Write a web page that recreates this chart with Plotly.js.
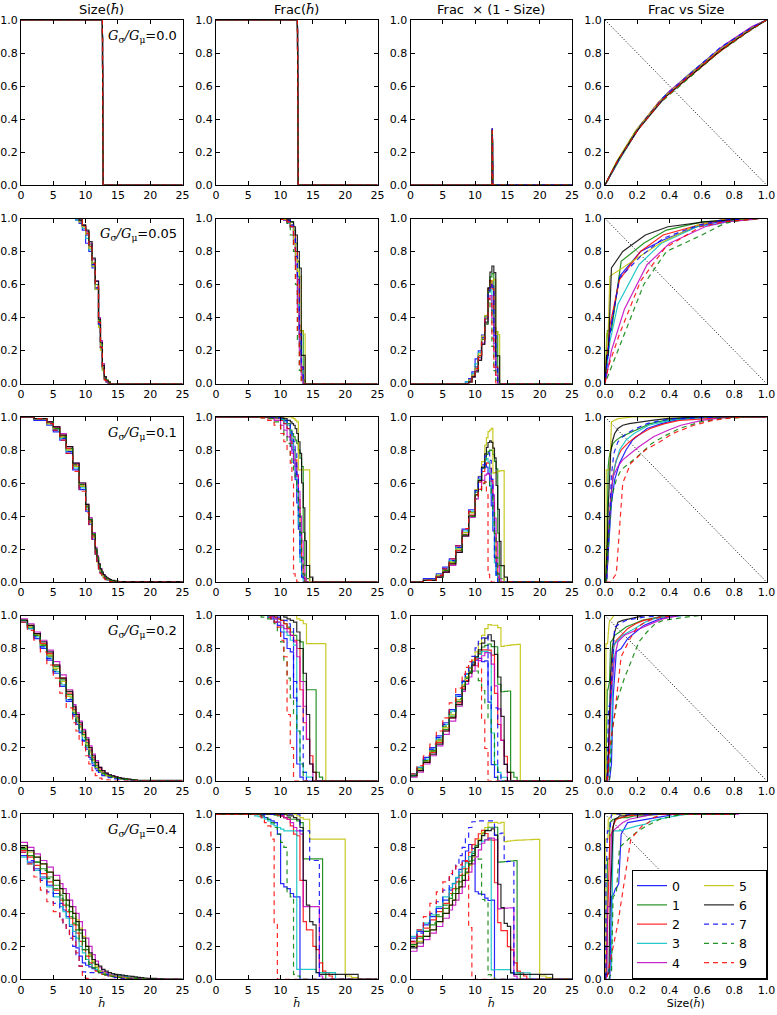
<!DOCTYPE html>
<html><head><meta charset="utf-8">
<script src="https://cdn.plot.ly/plotly-3.0.1.min.js"></script>
<style>body{margin:0;background:#fff}#plot{width:777px;height:1015px}</style>
</head><body><div id="plot"></div>
<script>
// ---------------- data ----------------
const SERIES_NAMES = ['0','1','2','3','4','5','6','7','8','9'];
const SERIES_COLORS = ['#0000ff','#008000','#ff0000','#00bfbf','#bf00bf','#bfbf00','#000000','#0000ff','#008000','#ff0000'];
const SERIES_DASH = ['solid','solid','solid','solid','solid','solid','solid','5px,4px','5px,4px','5px,4px'];
const RATIO_LABELS = ['0.0','0.05','0.1','0.2','0.4'];
const COL_TITLES = ['Size(<i>h̄</i>)','Frac(<i>h̄</i>)','Frac  × (1 - Size)','Frac vs Size'];
const DIAG_X = [0,1], DIAG_Y = [1,0];

// Row 1 : G_sigma/G_mu = 0.0 (shared h grid)
const H1 = [0,12.6,12.62,12.64,12.66,12.68,12.7,12.72,25];
const SIZE1 = [
 [1,0.9,0.72,0.52,0.35,0.2,0.08,0,0],
 [1,0.92,0.75,0.55,0.38,0.22,0.1,0,0],
 [1,0.88,0.7,0.5,0.33,0.18,0.07,0,0],
 [1,0.9,0.73,0.53,0.36,0.21,0.09,0,0],
 [1,0.91,0.74,0.56,0.4,0.24,0.1,0,0],
 [1,0.89,0.71,0.51,0.34,0.19,0.07,0,0],
 [1,0.9,0.72,0.54,0.37,0.2,0.08,0,0],
 [1,0.9,0.71,0.52,0.36,0.21,0.09,0,0],
 [1,0.89,0.7,0.5,0.32,0.18,0.07,0,0],
 [1,0.9,0.72,0.52,0.34,0.2,0.08,0,0]];
const FRAC1 = [
 [1,0.95,0.83,0.67,0.52,0.34,0.15,0,0],
 [1,0.96,0.84,0.69,0.55,0.36,0.17,0,0],
 [1,0.93,0.8,0.64,0.5,0.31,0.13,0,0],
 [1,0.95,0.84,0.68,0.53,0.35,0.16,0,0],
 [1,0.96,0.85,0.7,0.57,0.39,0.18,0,0],
 [1,0.94,0.82,0.66,0.51,0.33,0.14,0,0],
 [1,0.94,0.82,0.67,0.53,0.33,0.15,0,0],
 [1,0.95,0.83,0.67,0.53,0.35,0.16,0,0],
 [1,0.93,0.8,0.63,0.48,0.31,0.13,0,0],
 [1,0.94,0.82,0.66,0.5,0.33,0.15,0,0]];

// Row 2 : 0.05
const H2 = [0,8,8.5,9,9.5,10,10.5,11,11.5,12,12.3,12.6,12.9,13.2,13.5,13.8,25];
const SIZE2 = [
 [1,1,0.99,0.97,0.93,0.85,0.8,0.7,0.57,0.36,0.22,0.09,0.03,0.01,0,0,0],
 [1,1,1,0.99,0.96,0.92,0.84,0.73,0.6,0.38,0.24,0.1,0.04,0.015,0.005,0,0],
 [1,1,1,0.98,0.95,0.91,0.83,0.72,0.58,0.36,0.22,0.09,0.03,0.01,0,0,0],
 [1,1,0.99,0.98,0.94,0.88,0.81,0.71,0.57,0.35,0.21,0.08,0.03,0.01,0,0,0],
 [1,1,1,0.99,0.96,0.92,0.85,0.75,0.62,0.4,0.26,0.12,0.04,0.01,0,0,0],
 [1,1,1,0.98,0.95,0.9,0.82,0.71,0.57,0.34,0.2,0.08,0.03,0.02,0.01,0,0],
 [1,1,1,0.99,0.96,0.93,0.86,0.76,0.62,0.39,0.25,0.11,0.04,0.02,0.01,0,0],
 [1,1,1,0.98,0.95,0.9,0.83,0.72,0.58,0.36,0.22,0.09,0.03,0.01,0,0,0],
 [1,1,1,0.99,0.96,0.92,0.84,0.74,0.6,0.38,0.24,0.1,0.03,0.01,0,0,0],
 [1,1,1,0.99,0.96,0.91,0.84,0.73,0.59,0.37,0.22,0.09,0.02,0,0,0,0]];
const FRAC2 = [
 [1,1,1,1,1,0.995,0.99,0.98,0.95,0.87,0.8,0.65,0.3,0.1,0,0,0],
 [1,1,1,1,1,1,0.995,0.99,0.98,0.93,0.85,0.74,0.32,0.32,0.02,0,0],
 [1,1,1,1,1,1,0.995,0.99,0.96,0.9,0.8,0.63,0.35,0.1,0,0,0],
 [1,1,1,1,1,0.995,0.99,0.97,0.95,0.85,0.72,0.48,0.25,0.08,0,0,0],
 [1,1,1,1,1,0.995,0.99,0.98,0.95,0.85,0.72,0.45,0.2,0.05,0,0,0],
 [1,1,1,1,1,1,0.995,0.99,0.96,0.85,0.76,0.68,0.65,0.32,0.3,0,0],
 [1,1,1,1,1,1,1,0.99,0.98,0.95,0.9,0.8,0.7,0.17,0.17,0,0],
 [1,1,1,1,1,1,0.995,0.99,0.96,0.88,0.77,0.64,0.3,0.1,0,0,0],
 [1,1,1,1,1,0.995,0.99,0.97,0.9,0.8,0.6,0.25,0.08,0.02,0,0,0],
 [1,1,1,1,1,0.995,0.99,0.98,0.95,0.82,0.62,0.3,0.1,0,0,0,0]];

// Row 3 : 0.1
const H3 = [0,2,4,5,6,7,8,9,10,10.5,11,11.5,11.75,12,12.25,12.5,12.75,13,13.25,13.5,13.75,14,14.5,15,25];
const SIZE3 = [
 [1,0.98,0.95,0.91,0.86,0.78,0.68,0.56,0.43,0.35,0.26,0.17,0.13,0.09,0.06,0.04,0.03,0.02,0.015,0.01,0.008,0.005,0.002,0,0],
 [1,0.99,0.96,0.93,0.88,0.8,0.7,0.58,0.45,0.37,0.28,0.19,0.14,0.1,0.07,0.05,0.035,0.025,0.02,0.015,0.01,0.008,0.004,0.001,0],
 [1,0.99,0.97,0.94,0.89,0.81,0.71,0.59,0.46,0.37,0.28,0.19,0.14,0.1,0.07,0.05,0.035,0.025,0.018,0.012,0.008,0.005,0.002,0,0],
 [1,0.99,0.96,0.92,0.87,0.79,0.69,0.57,0.44,0.36,0.27,0.18,0.13,0.09,0.06,0.04,0.03,0.02,0.015,0.01,0.007,0.004,0.002,0,0],
 [1,0.99,0.97,0.94,0.9,0.82,0.72,0.6,0.47,0.39,0.3,0.21,0.16,0.11,0.08,0.05,0.04,0.03,0.02,0.015,0.01,0.006,0.003,0.001,0],
 [1,0.99,0.96,0.93,0.88,0.8,0.7,0.58,0.44,0.36,0.27,0.17,0.12,0.08,0.06,0.04,0.03,0.025,0.02,0.015,0.01,0.008,0.004,0,0],
 [1,0.99,0.97,0.94,0.89,0.82,0.72,0.6,0.47,0.38,0.29,0.2,0.15,0.11,0.08,0.06,0.045,0.035,0.025,0.02,0.015,0.01,0.005,0.002,0],
 [1,0.99,0.96,0.92,0.87,0.79,0.69,0.57,0.44,0.35,0.26,0.17,0.12,0.08,0.055,0.04,0.03,0.02,0.015,0.01,0.006,0.003,0.001,0,0],
 [1,0.99,0.97,0.93,0.88,0.81,0.71,0.59,0.46,0.38,0.29,0.2,0.15,0.1,0.07,0.05,0.035,0.025,0.018,0.012,0.008,0.005,0.002,0,0],
 [1,0.99,0.96,0.92,0.86,0.78,0.67,0.55,0.42,0.34,0.25,0.16,0.11,0.07,0.05,0.035,0.025,0.015,0.01,0.006,0.003,0.001,0,0,0]];
const FRAC3 = [
 [1,1,1,1,1,1,1,0.995,0.98,0.96,0.93,0.86,0.8,0.72,0.62,0.48,0.32,0.15,0.05,0.02,0,0,0,0,0],
 [1,1,1,1,1,1,1,1,0.99,0.98,0.96,0.92,0.9,0.88,0.86,0.84,0.8,0.75,0.7,0.3,0.1,0.02,0,0,0],
 [1,1,1,1,1,1,0.995,0.99,0.98,0.96,0.93,0.88,0.84,0.8,0.74,0.65,0.5,0.3,0.1,0.03,0,0,0,0,0],
 [1,1,1,1,1,1,1,0.995,0.985,0.97,0.95,0.9,0.86,0.8,0.7,0.55,0.35,0.12,0.04,0,0,0,0,0,0],
 [1,1,1,1,1,1,0.995,0.98,0.95,0.92,0.88,0.82,0.78,0.74,0.7,0.64,0.55,0.4,0.25,0.1,0.02,0,0,0,0],
 [1,1,1,1,1,1,1,1,1,1,1,1,0.995,0.99,0.98,0.97,0.68,0.68,0.68,0.68,0.68,0.68,0,0,0],
 [1,1,1,1,1,1,1,1,0.995,0.99,0.98,0.97,0.96,0.95,0.93,0.9,0.85,0.78,0.6,0.45,0.25,0.1,0.03,0,0],
 [1,1,1,1,1,1,1,0.995,0.99,0.98,0.96,0.92,0.89,0.85,0.78,0.65,0.4,0.15,0.03,0,0,0,0,0,0],
 [1,1,1,1,1,0.995,0.99,0.97,0.93,0.89,0.84,0.76,0.72,0.68,0.62,0.55,0.45,0.3,0.15,0.05,0,0,0,0,0],
 [1,1,1,1,1,0.995,0.98,0.95,0.9,0.85,0.8,0.72,0.6,0.05,0.02,0,0,0,0,0,0,0,0,0,0]];

// Row 4 : 0.2
const H4 = [0,1,2,3,4,5,6,7,8,8.5,9,9.5,10,10.5,11,11.5,12,12.5,13,13.5,14,14.5,15,15.5,16,16.5,17,17.5,18,25];
const SIZE4 = [
 [0.96,0.92,0.86,0.8,0.73,0.65,0.57,0.48,0.39,0.34,0.29,0.24,0.19,0.14,0.1,0.07,0.05,0.04,0.03,0.025,0.02,0.015,0.01,0.008,0.005,0.003,0.001,0,0,0],
 [0.97,0.93,0.88,0.82,0.76,0.69,0.61,0.52,0.43,0.38,0.33,0.28,0.23,0.18,0.13,0.09,0.06,0.045,0.035,0.028,0.022,0.018,0.014,0.01,0.008,0.005,0.003,0.002,0,0],
 [0.97,0.94,0.89,0.83,0.77,0.7,0.62,0.53,0.44,0.39,0.34,0.29,0.24,0.19,0.14,0.1,0.07,0.05,0.04,0.03,0.025,0.02,0.015,0.01,0.008,0.005,0.003,0.001,0,0],
 [0.96,0.92,0.87,0.81,0.74,0.66,0.58,0.49,0.4,0.35,0.3,0.25,0.2,0.15,0.11,0.08,0.055,0.04,0.032,0.026,0.02,0.016,0.012,0.01,0.008,0.006,0.004,0.002,0,0],
 [0.98,0.95,0.9,0.85,0.79,0.72,0.64,0.55,0.46,0.41,0.36,0.31,0.26,0.21,0.16,0.12,0.08,0.06,0.045,0.035,0.028,0.022,0.017,0.013,0.01,0.007,0.004,0.002,0,0],
 [0.97,0.93,0.88,0.82,0.76,0.68,0.6,0.51,0.42,0.37,0.32,0.27,0.22,0.17,0.12,0.08,0.055,0.04,0.03,0.025,0.02,0.016,0.013,0.01,0.008,0.006,0.004,0.002,0,0],
 [0.97,0.94,0.89,0.84,0.78,0.7,0.62,0.54,0.45,0.4,0.35,0.3,0.25,0.2,0.15,0.11,0.08,0.06,0.045,0.035,0.028,0.022,0.017,0.013,0.01,0.008,0.005,0.003,0.001,0],
 [0.97,0.93,0.87,0.81,0.74,0.66,0.58,0.49,0.4,0.35,0.3,0.24,0.18,0.13,0.09,0.06,0.04,0.03,0.022,0.017,0.013,0.01,0.008,0.006,0.004,0.002,0.001,0,0,0],
 [0.97,0.93,0.88,0.82,0.75,0.67,0.59,0.5,0.41,0.36,0.31,0.26,0.21,0.16,0.12,0.08,0.06,0.045,0.035,0.028,0.022,0.018,0.014,0.01,0.007,0.005,0.003,0.001,0,0],
 [0.96,0.91,0.85,0.78,0.7,0.62,0.53,0.44,0.35,0.3,0.25,0.2,0.15,0.1,0.06,0.03,0.015,0.008,0.004,0.002,0.001,0,0,0,0,0,0,0,0,0]];
const FRAC4 = [
 [1,1,1,1,1,1,1,1,0.99,0.98,0.96,0.94,0.9,0.86,0.8,0.78,0.5,0.1,0.02,0,0,0,0,0,0,0,0,0,0,0],
 [1,1,1,1,1,1,1,1,1,1,0.99,0.98,0.97,0.95,0.93,0.9,0.88,0.85,0.84,0.6,0.55,0.55,0.55,0.05,0.02,0,0,0,0,0],
 [1,1,1,1,1,1,1,1,1,0.995,0.99,0.98,0.97,0.95,0.92,0.88,0.85,0.8,0.55,0.35,0.25,0.15,0.05,0,0,0,0,0,0,0],
 [1,1,1,1,1,1,1,1,0.995,0.99,0.98,0.96,0.93,0.9,0.88,0.85,0.82,0.3,0.1,0.05,0.02,0.02,0,0,0,0,0,0,0,0],
 [1,1,1,1,1,1,1,1,1,0.99,0.98,0.96,0.94,0.92,0.9,0.88,0.84,0.75,0.6,0.45,0.25,0.1,0,0,0,0,0,0,0,0],
 [1,1,1,1,1,1,1,1,1,1,1,1,1,1,1,1,1,0.98,0.97,0.95,0.83,0.83,0.83,0.83,0.83,0.83,0,0,0,0],
 [1,1,1,1,1,1,1,1,1,1,1,1,1,0.99,0.98,0.97,0.96,0.9,0.8,0.65,0.4,0.1,0.05,0,0,0,0,0,0,0],
 [1,1,1,1,1,1,1,1,1,1,0.995,0.99,0.98,0.97,0.95,0.93,0.6,0.45,0.45,0.05,0,0,0,0,0,0,0,0,0,0],
 [1,1,1,1,1,1,1,0.99,0.98,0.97,0.95,0.9,0.84,0.72,0.62,0.5,0.4,0.3,0.1,0,0,0,0,0,0,0,0,0,0,0],
 [1,1,1,1,1,1,1,1,0.99,0.98,0.96,0.93,0.85,0.75,0.4,0.2,0,0,0,0,0,0,0,0,0,0,0,0,0,0]];

// Row 5 : 0.4
const H5 = [0,1,2,3,4,5,6,6.5,7,7.5,8,8.5,9,9.5,10,10.5,11,11.5,12,12.5,13,13.5,14,14.5,15,15.5,16,16.5,17,17.5,18,18.5,19,19.5,20,21,22,25];
const SIZE5 = [
 [.75,.71,.67,.62,.57,.52,.46,.42,.38,.32,.26,.19,.14,.1,.085,.075,.065,.055,.045,.04,.03,.025,.02,.015,.012,.01,.008,.006,.005,.004,.003,.002,.001,.001,0,0,0,0],
 [.79,.75,.71,.67,.62,.57,.51,.48,.45,.41,.37,.33,.28,.23,.18,.14,.1,.07,.05,.04,.03,.028,.025,.022,.02,.018,.015,.01,.008,.006,.005,.004,.003,.002,.001,0,0,0],
 [.78,.74,.69,.64,.59,.54,.48,.45,.41,.37,.33,.28,.23,.18,.14,.1,.07,.05,.04,.03,.025,.02,.018,.015,.012,.01,.008,.006,.005,.004,.003,.002,.001,0,0,0,0,0],
 [.74,.7,.66,.61,.56,.5,.44,.41,.37,.33,.29,.25,.2,.16,.12,.09,.07,.06,.05,.04,.035,.03,.028,.025,.022,.02,.018,.015,.012,.01,.008,.005,.003,.002,.001,0,0,0],
 [.83,.8,.76,.72,.68,.63,.58,.55,.52,.48,.44,.4,.35,.3,.25,.2,.15,.11,.07,.05,.04,.03,.025,.02,.018,.015,.012,.01,.008,.006,.004,.003,.002,.001,0,0,0,0],
 [.8,.77,.74,.7,.65,.6,.55,.52,.48,.44,.4,.36,.31,.26,.2,.15,.11,.08,.05,.04,.03,.025,.02,.018,.015,.012,.01,.008,.007,.006,.005,.004,.003,.002,.001,0,0,0],
 [.81,.78,.74,.7,.65,.6,.55,.52,.48,.44,.4,.35,.3,.25,.2,.16,.12,.09,.08,.06,.05,.04,.035,.03,.028,.025,.022,.02,.018,.015,.012,.01,.008,.006,.005,.002,0,0],
 [.77,.72,.66,.6,.53,.46,.38,.34,.3,.25,.2,.14,.08,.045,.04,.04,.04,.04,.04,.04,.03,.02,.015,.01,.008,.006,.005,.004,.003,.002,.002,.001,.001,0,0,0,0,0],
 [.79,.75,.71,.66,.61,.55,.49,.46,.42,.38,.34,.3,.24,.18,.12,.09,.07,.05,.04,.03,.025,.02,.018,.015,.012,.01,.008,.006,.005,.004,.003,.002,.001,0,0,0,0,0],
 [.77,.7,.62,.54,.47,.41,.36,.33,.3,.27,.23,.16,.08,.01,.005,0,0,0,0,0,0,0,0,0,0,0,0,0,0,0,0,0,0,0,0,0,0,0]];
const FRAC5 = [
 [1,1,1,1,1,1,1,1,0.99,0.98,0.97,0.96,0.95,0.88,0.58,0.56,0.55,0.52,0.5,0.5,0,0,0,0,0,0,0,0,0,0,0,0,0,0,0,0,0,0],
 [1,1,1,1,1,1,1,1,1,1,1,1,0.995,0.99,0.99,0.98,0.98,0.97,0.97,0.96,0.95,0.73,0.73,0.73,0.73,0.73,0.73,0.04,0,0,0,0,0,0,0,0,0,0],
 [1,1,1,1,1,1,1,1,1,1,1,1,1,0.995,0.99,0.98,0.97,0.93,0.88,0.87,0.6,0.35,0.3,0.3,0.2,0.18,0.1,0.05,0.04,0.02,0,0,0,0,0,0,0,0],
 [1,1,1,1,1,1,0.99,0.985,0.98,0.97,0.96,0.94,0.93,0.92,0.91,0.9,0.9,0.9,0.9,0.06,0.06,0.06,0.06,0.06,0.06,0.04,0.04,0.04,0.04,0.04,0.04,0,0,0,0,0,0,0],
 [1,1,1,1,1,1,1,1,1,1,1,1,1,1,0.99,0.98,0.97,0.95,0.92,0.9,0.88,0.44,0.44,0.44,0.44,0.44,0.02,0,0,0,0,0,0,0,0,0,0,0],
 [1,1,1,1,1,1,1,1,1,1,1,1,1,1,1,1,1,1,1,0.99,0.98,0.97,0.97,0.85,0.85,0.85,0.85,0.85,0.85,0.85,0.85,0.85,0.85,0.85,0.02,0.01,0,0],
 [1,1,1,1,1,1,1,1,1,1,1,1,1,1,1,1,0.99,0.99,0.98,0.97,0.92,0.6,0.45,0.35,0.33,0.04,0.03,0.03,0.03,0.03,0.03,0.03,0.03,0.03,0.03,0.03,0,0],
 [1,1,1,1,1,1,1,1,1,1,1,1,1,1,1,1,1,1,1,1,0.9,0.9,0.9,0.72,0.72,0.72,0,0,0,0,0,0,0,0,0,0,0,0],
 [1,1,1,1,1,1,1,0.995,0.99,0.98,0.97,0.95,0.92,0.88,0.83,0.8,0.52,0.5,0.03,0.02,0,0,0,0,0,0,0,0,0,0,0,0,0,0,0,0,0,0],
 [1,1,1,1,1,1,1,0.99,0.98,0.95,0.93,0.85,0.34,0,0,0,0,0,0,0,0,0,0,0,0,0,0,0,0,0,0,0,0,0,0,0,0,0]];

const H_ROWS = [H1,H2,H3,H4,H5];
const SIZE_ROWS = [SIZE1,SIZE2,SIZE3,SIZE4,SIZE5];
const FRAC_ROWS = [FRAC1,FRAC2,FRAC3,FRAC4,FRAC5];

// ---------------- layout geometry (pixels) ----------------
const W = 777, HT = 1015;
const COL_L = [21, 216, 410.5, 605], PW = 161.5;
const ROW_T = [20, 218.5, 417, 615.5, 814.3], PH = 165;
const FONT = 'DejaVu Sans';

const traces = [];
const layout = {
  width: W, height: HT, margin: {l:0, r:0, t:0, b:0, autoexpand: false},
  paper_bgcolor: '#fff', plot_bgcolor: '#fff', showlegend: true,
  font: {family: FONT, size: 11, color: '#000'},
  annotations: [],
  legend: {x: 632/W, y: 1 - 870/HT, xanchor: 'left', yanchor: 'top',
    orientation: 'h', traceorder: 'grouped', tracegroupgap: 10,
    entrywidth: 22, entrywidthmode: 'pixels',
    bgcolor: '#fff', bordercolor: '#000', borderwidth: 1,
    font: {family: FONT, size: 12.5, color: '#000'}, itemwidth: 30}
};

function axBase() {
  return {showline: true, linecolor: '#000', linewidth: 1, mirror: 'allticks',
    ticks: 'inside', ticklen: 4, tickwidth: 1, tickcolor: '#000',
    showgrid: false, zeroline: false, fixedrange: true, automargin: false,
    tickfont: {family: FONT, size: 11, color: '#000'}};
}

for (let r = 0; r < 5; r++) {
  for (let c = 0; c < 4; c++) {
    const k = r*4 + c + 1;
    const xn = k === 1 ? 'x' : 'x' + k, yn = k === 1 ? 'y' : 'y' + k;
    const xa = axBase(), ya = axBase();
    const L = COL_L[c], T = ROW_T[r];
    xa.domain = [L/W, (L+PW)/W];
    ya.domain = [1 - (T+PH)/HT, 1 - T/HT];
    xa.anchor = yn; ya.anchor = xn;
    if (c < 3) { xa.range = [0,25]; xa.tickvals = [0,5,10,15,20,25]; }
    else { xa.range = [0,1]; xa.tickvals = [0,0.2,0.4,0.6,0.8,1.0]; xa.tickformat = '.1f'; }
    ya.range = [0,1]; ya.tickvals = [0,0.2,0.4,0.6,0.8,1.0]; ya.tickformat = '.1f';
    if (r === 4) {
      xa.title = {text: c < 3 ? '<i>h̄</i>' : 'Size(<i>h̄</i>)', font: {family: FONT, size: 11, color:'#000'}, standoff: 3};
    }
    layout[k === 1 ? 'xaxis' : 'xaxis' + k] = xa;
    layout[k === 1 ? 'yaxis' : 'yaxis' + k] = ya;

    if (c === 3) {
      traces.push({x: DIAG_X, y: DIAG_Y, xaxis: xn, yaxis: yn, mode: 'lines',
        line: {color: '#000', width: 1, dash: '1px,2px'}, showlegend: false, hoverinfo: 'skip'});
    }
    const H = H_ROWS[r];
    for (let s = 0; s < 10; s++) {
      const S = SIZE_ROWS[r][s], F = FRAC_ROWS[r][s];
      let x, y, shape = 'hv';
      if (c === 0) { x = H; y = S; }
      else if (c === 1) { x = H; y = F; }
      else if (c === 2) { x = H; y = F.map((f, i) => f * (1 - S[i])); }
      else { x = S; y = F; shape = 'linear'; }
      traces.push({x, y, xaxis: xn, yaxis: yn, mode: 'lines', name: SERIES_NAMES[s],
        legendgroup: s < 5 ? 'left' : 'right',
        showlegend: (r === 4 && c === 3),
        opacity: 0.85,
        line: {color: SERIES_COLORS[s], width: 1.2, dash: SERIES_DASH[s], shape},
        hoverinfo: 'skip'});
    }
    if (r === 0) {
      layout.annotations.push({xref: 'paper', yref: 'paper', x: (L + PW/2)/W, y: 1 - 10/HT,
        xanchor: 'center', yanchor: 'middle', showarrow: false, text: COL_TITLES[c],
        font: {family: FONT, size: 13, color: '#000'}});
    }
    if (c === 0) {
      layout.annotations.push({xref: 'paper', yref: 'paper', x: (L + PW - 4)/W, y: 1 - (T + 16)/HT,
        xanchor: 'right', yanchor: 'middle', showarrow: false,
        text: '<span style="font-family:\'DejaVu Serif\'"><i>G</i><sub>σ</sub><i>/G</i><sub>μ</sub></span>=' + RATIO_LABELS[r],
        font: {family: FONT, size: 13, color: '#000'}});
    }
  }
}

Plotly.newPlot('plot', traces, layout, {staticPlot: true});
</script>
</body></html>
